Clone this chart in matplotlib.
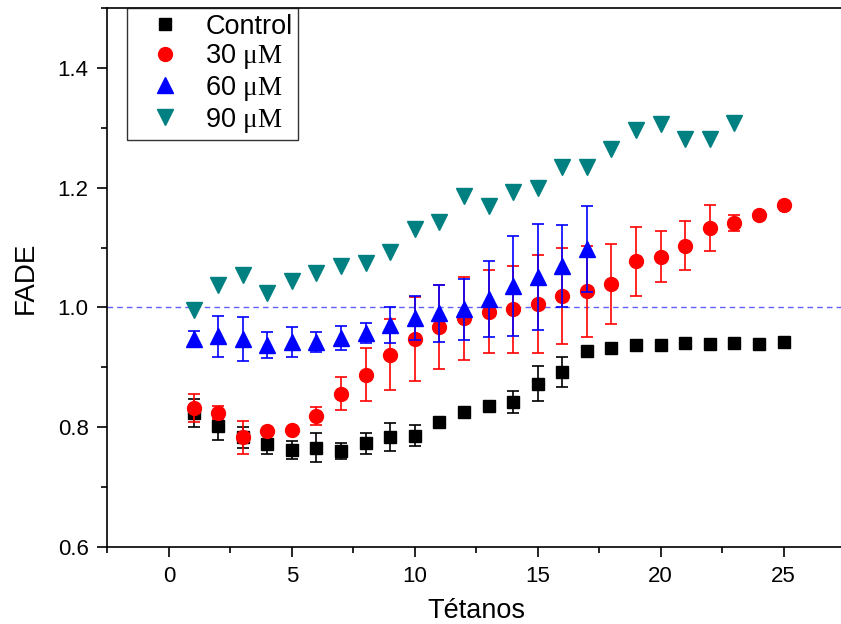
import numpy as np
import matplotlib
matplotlib.use("Agg")
import matplotlib.pyplot as plt
from matplotlib.ticker import MultipleLocator

plt.rcParams['font.family'] = ['Liberation Sans', 'DejaVu Sans']
plt.rcParams['mathtext.fontset'] = 'custom'
plt.rcParams['mathtext.rm'] = 'Liberation Serif'

# FADE values per tetanus, mean and error
x_ctrl = np.arange(1, 26)
y_ctrl = [0.824, 0.802, 0.783, 0.772, 0.762, 0.766, 0.760, 0.773, 0.784, 0.786,
          0.809, 0.826, 0.835, 0.842, 0.873, 0.892, 0.928, 0.932, 0.938, 0.938,
          0.940, 0.939, 0.941, 0.939, 0.943]
e_ctrl = [0.024, 0.024, 0.018, 0.016, 0.015, 0.024, 0.013, 0.018, 0.023, 0.017,
          0, 0, 0, 0.019, 0.030, 0.025, 0, 0, 0, 0,
          0, 0, 0, 0, 0]

x_30 = np.arange(1, 26)
y_30 = [0.832, 0.824, 0.783, 0.794, 0.795, 0.818, 0.856, 0.888, 0.921, 0.948,
        0.968, 0.982, 0.993, 0.997, 1.006, 1.019, 1.027, 1.039, 1.077, 1.085,
        1.103, 1.133, 1.141, 1.155, 1.171]
e_30 = [0.023, 0.011, 0.027, 0, 0, 0.015, 0.028, 0.045, 0.059, 0.070,
        0.070, 0.069, 0.069, 0.073, 0.082, 0.080, 0.076, 0.067, 0.057, 0.042,
        0.041, 0.038, 0.013, 0, 0]

x_60 = np.arange(1, 18)
y_60 = [0.948, 0.952, 0.947, 0.937, 0.943, 0.942, 0.949, 0.957, 0.970, 0.982,
        0.990, 0.997, 1.014, 1.036, 1.051, 1.069, 1.098]
e_60 = [0.013, 0.034, 0.037, 0.022, 0.025, 0.017, 0.020, 0.017, 0.030, 0.037,
        0.048, 0.051, 0.064, 0.084, 0.088, 0.068, 0.072]

x_90 = np.arange(1, 24)
y_90 = [0.996, 1.038, 1.054, 1.025, 1.044, 1.057, 1.069, 1.075, 1.093, 1.131,
        1.143, 1.187, 1.170, 1.193, 1.199, 1.234, 1.234, 1.264, 1.297, 1.307,
        1.281, 1.281, 1.308]

fig = plt.figure(figsize=(8.41, 6.24), dpi=100)
ax = fig.add_axes([0.1278, 0.1234, 0.877, 0.8636])

ax.axhline(1.0, color='#6060ff', lw=1.0, ls=(0, (4, 3)), zorder=1)

ax.errorbar(x_ctrl, y_ctrl, yerr=e_ctrl, fmt='none', ecolor='black', elinewidth=1.2, capsize=4.5, capthick=1.2, zorder=2)
h1, = ax.plot(x_ctrl, y_ctrl, 's', color='black', ms=9, ls='none', zorder=3, label='Control')
ax.errorbar(x_30, y_30, yerr=e_30, fmt='none', ecolor='red', elinewidth=1.2, capsize=4.5, capthick=1.2, zorder=4)
h2, = ax.plot(x_30, y_30, 'o', color='red', ms=10, ls='none', zorder=5, label=r'30 $\mathrm{μM}$')
ax.errorbar(x_60, y_60, yerr=e_60, fmt='none', ecolor='blue', elinewidth=1.2, capsize=4.5, capthick=1.2, zorder=6)
h3, = ax.plot(x_60, y_60, '^', color='blue', ms=11, ls='none', zorder=7, label=r'60 $\mathrm{μM}$')
h4, = ax.plot(x_90, y_90, 'v', color='#008080', ms=11, ls='none', zorder=8, label=r'90 $\mathrm{μM}$')

ax.set_xlim(-2.5, 27.5)
ax.set_ylim(0.6, 1.5)
ax.xaxis.set_major_locator(MultipleLocator(5))
ax.xaxis.set_minor_locator(MultipleLocator(2.5))
ax.yaxis.set_major_locator(MultipleLocator(0.2))
ax.yaxis.set_minor_locator(MultipleLocator(0.1))
ax.tick_params(which='major', direction='out', length=7.5, width=1.2, labelsize=16)
ax.tick_params(which='minor', direction='out', length=4.5, width=1.2)
ax.tick_params(axis='x', which='major', pad=6)
ax.tick_params(axis='y', which='major', pad=6)
ax.set_yticks([0.6, 0.8, 1.0, 1.2, 1.4])
ax.set_yticklabels(['0.6', '0.8', '1.0', '1.2', '1.4'])
for s in ax.spines.values():
    s.set_linewidth(1.2)

ax.set_xlabel('Tétanos', fontsize=19.5, labelpad=8)
ax.set_ylabel('FADE', fontsize=20, labelpad=14)

leg = ax.legend(handles=[h1, h2, h3, h4], loc='upper left', bbox_to_anchor=(0.026, 1.0),
                borderaxespad=0, fontsize=19.5, frameon=True, fancybox=False,
                labelspacing=0.1, handletextpad=0.3, borderpad=0.2, handlelength=2.4)
leg.get_frame().set_edgecolor('black')
leg.get_frame().set_linewidth(1.0)

fig.savefig('out.png', dpi=100)
